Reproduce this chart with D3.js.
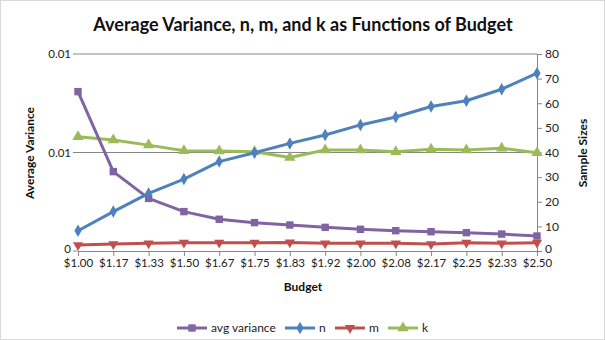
<!DOCTYPE html>
<html><head><meta charset="utf-8">
<script src="https://cdn.jsdelivr.net/npm/d3@7"></script>
<style>body{margin:0;background:#fff}svg{display:block;font-family:Lato,"Open Sans",sans-serif}</style>
</head><body>
<svg id="c" width="605" height="340"></svg>
<script>
const budgets = ["$1.00","$1.17","$1.33","$1.50","$1.67","$1.75","$1.83","$1.92","$2.00","$2.08","$2.17","$2.25","$2.33","$2.50"];
const avgVariance = [0.00809,0.00403,0.00267,0.00200,0.00161,0.00144,0.00132,0.00120,0.00110,0.00103,0.00098,0.00093,0.00086,0.00076];
const nValues = [8.2,16.0,23.4,29.2,36.3,39.9,43.7,47.1,51.2,54.4,58.7,61.0,65.7,72.2];
const mValues = [2.4,2.8,3.1,3.4,3.4,3.4,3.5,3.1,3.1,3.1,2.8,3.4,3.1,3.4];
const kValues = [46.4,45.1,43.0,40.7,40.6,40.3,38.0,41.0,41.0,40.3,41.3,41.0,41.7,39.9];
const leftTicks = [0,0.005,0.01];
const leftTickLabels = ["0","0.01","0.01"];
const rightTicks = [0,10,20,30,40,50,60,70,80];

const svg = d3.select("#c");
const L = 78, R = 537, T = 54, B = 251;
const x = d3.scalePoint().domain(budgets).range([L, R]);
const yL = d3.scaleLinear().domain([0, 0.01]).range([B, T]);
const yR = d3.scaleLinear().domain([0, 80]).range([B, T]);

svg.append("rect").attr("x",0.5).attr("y",0.5).attr("width",604).attr("height",339)
  .attr("fill","#fff").attr("stroke","#d9d9d9");

// gridlines
svg.append("g").selectAll("line").data(leftTicks.filter(d=>d>0)).join("line")
  .attr("x1",L).attr("x2",R).attr("y1",d=>yL(d)).attr("y2",d=>yL(d))
  .attr("stroke","#868686").attr("stroke-width",1);

// left axis labels
const gl = svg.append("g");
leftTicks.forEach((t,i)=>{
  gl.append("line").attr("x1",L-5).attr("x2",L).attr("y1",yL(t)).attr("y2",yL(t)).attr("stroke","#868686");
  gl.append("text").attr("x",L-7).attr("y",yL(t)+(t===0?2:4)).attr("text-anchor","end")
    .attr("font-size",11.5).attr("fill","#222").text(leftTickLabels[i]);
});

// right axis
const gr = svg.append("g").attr("transform",`translate(${R},0)`)
  .call(d3.axisRight(yR).tickValues(rightTicks).tickSize(5).tickPadding(3));
gr.select(".domain").attr("stroke","#868686");
gr.selectAll(".tick line").attr("stroke","#868686");
gr.selectAll("text").attr("font-family","Lato").attr("font-size",12).attr("fill","#222");
gr.selectAll(".tick").filter(d=>d===0).select("text").attr("dy","0.1em");

// bottom axis
const gb = svg.append("g").attr("transform",`translate(0,${B})`)
  .call(d3.axisBottom(x).tickSize(5).tickPadding(3).tickSizeOuter(0));
gb.select(".domain").attr("stroke","#868686");
gb.selectAll(".tick line").attr("stroke","#868686");
gb.selectAll("text").attr("font-family","Lato").attr("font-size",11.5).attr("fill","#222");

// titles
svg.append("text").attr("x",303).attr("y",31).attr("text-anchor","middle")
  .attr("font-size",18).attr("font-weight","bold").attr("fill","#111")
  .text("Average Variance, n, m, and k as Functions of Budget");
svg.append("text").attr("x",303).attr("y",291).attr("text-anchor","middle")
  .attr("font-size",12).attr("font-weight","bold").attr("fill","#111").text("Budget");
svg.append("text").attr("transform","translate(34,153) rotate(-90)").attr("text-anchor","middle")
  .attr("font-size",12).attr("font-weight","bold").attr("fill","#111").text("Average Variance");
svg.append("text").attr("transform","translate(587,153) rotate(-90)").attr("text-anchor","middle")
  .attr("font-size",12).attr("font-weight","bold").attr("fill","#111").text("Sample Sizes");

const symbols = {
  square: d3.symbol().type(d3.symbolSquare).size(55),
  diamond: d3.symbol().type(d3.symbolDiamond).size(45),
  tridown: d3.symbol().type(d3.symbolTriangle).size(45),
  triangle: d3.symbol().type(d3.symbolTriangle).size(55)
};
const series = [
  {name:"avg variance", vals:avgVariance, y:yL, color:"#8064A2", sym:"square"},
  {name:"n", vals:nValues, y:yR, color:"#4F81BD", sym:"diamond"},
  {name:"m", vals:mValues, y:yR, color:"#C0504D", sym:"tridown"},
  {name:"k", vals:kValues, y:yR, color:"#9BBB59", sym:"triangle"}
];
const drawOrder = [series[2], series[3], series[0], series[1]];
drawOrder.forEach(s=>{
  const line = d3.line().x((d,i)=>x(budgets[i])).y(d=>s.y(d));
  svg.append("path").datum(s.vals).attr("d",line).attr("fill","none")
    .attr("stroke",s.color).attr("stroke-width",3).attr("stroke-linejoin","round");
  svg.append("g").selectAll("path").data(s.vals).join("path")
    .attr("d",symbols[s.sym])
    .attr("transform",(d,i)=>`translate(${x(budgets[i])},${s.y(d)})${s.sym==="tridown"?" rotate(180)":""}`)
    .attr("fill",s.color);
});

// legend
const legX = [177, 285, 335, 388];
const lg = svg.append("g");
series.forEach((s,i)=>{
  const g = lg.append("g").attr("transform",`translate(${legX[i]},328)`);
  g.append("line").attr("x1",0).attr("x2",30).attr("stroke",s.color).attr("stroke-width",3);
  g.append("path").attr("d",symbols[s.sym]).attr("fill",s.color)
    .attr("transform",`translate(15,0)${s.sym==="tridown"?" rotate(180)":""}`);
  g.append("text").attr("x",34).attr("y",4).attr("font-size",12).attr("fill","#222").text(s.name);
});
</script>
</body></html>
